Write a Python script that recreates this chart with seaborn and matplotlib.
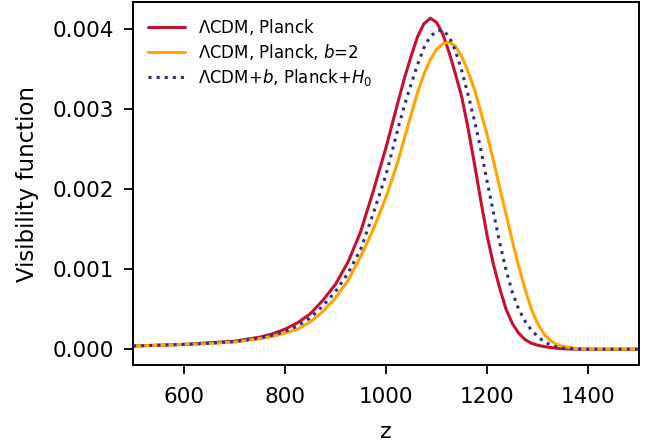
import numpy as np
import pandas as pd
import matplotlib
matplotlib.use("Agg")
import matplotlib.pyplot as plt
import seaborn as sns

# redshift grid
z = [500, 550, 600, 650, 700, 750, 775, 800, 825, 850, 875, 900, 925, 950, 975,
     1000, 1012.5, 1025, 1037.5, 1050, 1062.5, 1075, 1087.5, 1100, 1112.5, 1125,
     1137.5, 1150, 1162.5, 1175, 1187.5, 1200, 1212.5, 1225, 1237.5, 1250, 1262.5,
     1275, 1287.5, 1300, 1312.5, 1325, 1337.5, 1350, 1375, 1400, 1450, 1500]

# visibility functions (units of 1e-3)
vis_lcdm = [0.04, 0.05, 0.06, 0.08, 0.10, 0.15, 0.19, 0.25, 0.33, 0.44, 0.61, 0.81, 1.09, 1.47, 1.98,
            2.52, 2.82, 3.12, 3.41, 3.67, 3.91, 4.07, 4.14, 4.09, 3.94, 3.71,
            3.44, 3.15, 2.76, 2.32, 1.86, 1.42, 1.06, 0.76, 0.50, 0.32, 0.20,
            0.12, 0.075, 0.05, 0.033, 0.022, 0.012, 0.006, 0.002, 0.0, 0.0, 0.0]
vis_lcdm_b2 = [0.04, 0.05, 0.06, 0.07, 0.09, 0.13, 0.16, 0.20, 0.25, 0.34, 0.47, 0.64, 0.86, 1.16, 1.50,
               1.90, 2.13, 2.38, 2.66, 2.94, 3.21, 3.44, 3.62, 3.75, 3.82, 3.84,
               3.79, 3.66, 3.47, 3.25, 2.97, 2.68, 2.36, 2.02, 1.69, 1.35, 1.04,
               0.75, 0.50, 0.32, 0.19, 0.11, 0.06, 0.035, 0.01, 0.003, 0.0, 0.0]
vis_lcdm_b_h0 = [0.04, 0.05, 0.06, 0.075, 0.095, 0.14, 0.175, 0.22, 0.29, 0.39, 0.54, 0.72, 0.95, 1.25, 1.70,
                 2.18, 2.48, 2.79, 3.07, 3.32, 3.56, 3.77, 3.91, 3.98, 3.99, 3.91,
                 3.73, 3.48, 3.18, 2.86, 2.50, 2.10, 1.71, 1.33, 0.99, 0.71, 0.50,
                 0.35, 0.24, 0.16, 0.095, 0.055, 0.028, 0.013, 0.003, 0.0, 0.0, 0.0]

labels = [r"$\Lambda$CDM, Planck",
          r"$\Lambda$CDM, Planck, $b$=2",
          r"$\Lambda$CDM+$b$, Planck+$H_0$"]
colors = ["#c8102e", "#ffa500", "#2b2f8f"]
styles = ["-", "-", ":"]

sns.set_theme(style="ticks", rc={"text.color": "black", "axes.labelcolor": "black",
                                 "xtick.color": "black", "ytick.color": "black",
                                 "axes.edgecolor": "black"})
plt.rcParams["font.family"] = ["DejaVu Sans"]
plt.rcParams["mathtext.fontset"] = "dejavusans"

fig, ax = plt.subplots(figsize=(6.62, 4.47), dpi=100)
fig.subplots_adjust(left=0.201, right=0.965, top=0.995, bottom=0.183)

for vals, lab, col, ls in zip([vis_lcdm, vis_lcdm_b2, vis_lcdm_b_h0], labels, colors, styles):
    y = np.array(vals) * 1e-3
    sns.lineplot(x=z, y=y, ax=ax, color=col, linestyle=ls, linewidth=2.2, label=lab)

ax.set_xlim(500, 1500)
ax.set_ylim(-0.0002, 0.00434)
ax.set_xticks([600, 800, 1000, 1200, 1400])
ax.set_yticks([0.0, 0.001, 0.002, 0.003, 0.004])
ax.set_yticklabels(["0.000", "0.001", "0.002", "0.003", "0.004"])
ax.set_xlabel("z", fontsize=16, labelpad=11)
ax.set_ylabel("Visibility function", fontsize=16.5, labelpad=10)
ax.tick_params(axis="both", labelsize=15.5, length=6.5, width=1.3, color="black",
               direction="out")
ax.tick_params(axis="x", pad=9)
ax.tick_params(axis="y", pad=7)
for sp in ax.spines.values():
    sp.set_linewidth(1.4)
    sp.set_color("black")

leg = ax.legend(loc="upper left", frameon=False, fontsize=12, handlelength=2.2,
                labelspacing=0.3)

fig.savefig("out.png", dpi=100)
